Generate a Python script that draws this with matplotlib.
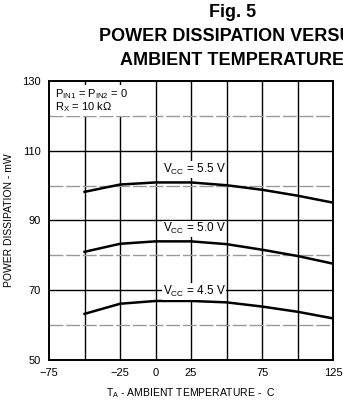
import numpy as np
import matplotlib
matplotlib.use("Agg")
import matplotlib.pyplot as plt

plt.rcParams["font.family"] = ["Liberation Sans", "DejaVu Sans"]
plt.rcParams["mathtext.default"] = "regular"

# ambient temperature (C) and power dissipation (mW)
temp = [-50, -25, 0, 25, 50, 75, 100, 125]
p_55 = [98.2, 100.3, 100.9, 100.9, 100.1, 98.8, 97.1, 95.1]
p_50 = [81.0, 83.3, 84.0, 84.0, 83.2, 81.6, 79.8, 77.6]
p_45 = [63.2, 66.1, 66.9, 66.9, 66.5, 65.3, 63.8, 61.9]

series = [p_55, p_50, p_45]
labels = ["$V_{CC}$ = 5.5 V", "$V_{CC}$ = 5.0 V", "$V_{CC}$ = 4.5 V"]
label_y = [104.6, 87.6, 69.6]

x_ticks = [-75, -25, 0, 25, 75, 125]
y_ticks = [130, 110, 90, 70, 50]

fig = plt.figure(figsize=(3.43, 4.03), dpi=100)
ax = fig.add_axes([0.143, 0.107, 0.828, 0.692])

ax.set_xlim(-75, 125)
ax.set_ylim(50, 130)

# grid
for xv in np.arange(-50, 125, 25):
    ax.axvline(xv, color="black", lw=1.0, zorder=1)
for yv in [110, 90, 70]:
    ax.axhline(yv, color="black", lw=1.0, zorder=1)
for yv in [120, 100, 80, 60]:
    ax.axhline(yv, color="#999999", lw=1.0, ls=(0, (10, 2)), zorder=1)

for vals, lab, ly in zip(series, labels, label_y):
    ax.plot(temp, vals, color="black", lw=1.8, zorder=3)
    ax.text(5, ly, lab, fontsize=8.5, ha="left", va="center", zorder=4,
            bbox=dict(facecolor="white", edgecolor="none", pad=0.5))

ax.text(-71, 128.3, "$P_{IN1}$ = $P_{IN2}$ = 0\n$R_X$ = 10 k$\\Omega$", fontsize=8,
        ha="left", va="top", linespacing=0.95, zorder=4,
        bbox=dict(facecolor="white", edgecolor="none", pad=1.5))

ax.set_xticks(x_ticks)
ax.set_yticks(y_ticks)
ax.tick_params(length=0, labelsize=8, pad=6)
for s in ax.spines.values():
    s.set_linewidth(1.4)

ax.set_ylabel("POWER DISSIPATION - mW", fontsize=7.5, labelpad=6)
ax.set_xlabel("$T_A$ - AMBIENT TEMPERATURE -  C", fontsize=7.5, labelpad=6)

fig.text(0.677, 0.97, "Fig. 5", fontsize=13, fontweight="bold", ha="center", va="center")
fig.text(0.677, 0.91, "POWER DISSIPATION VERSUS", fontsize=13, fontweight="bold", ha="center", va="center")
fig.text(0.677, 0.85, "AMBIENT TEMPERATURE", fontsize=13, fontweight="bold", ha="center", va="center")

fig.savefig("out.png", dpi=100)
